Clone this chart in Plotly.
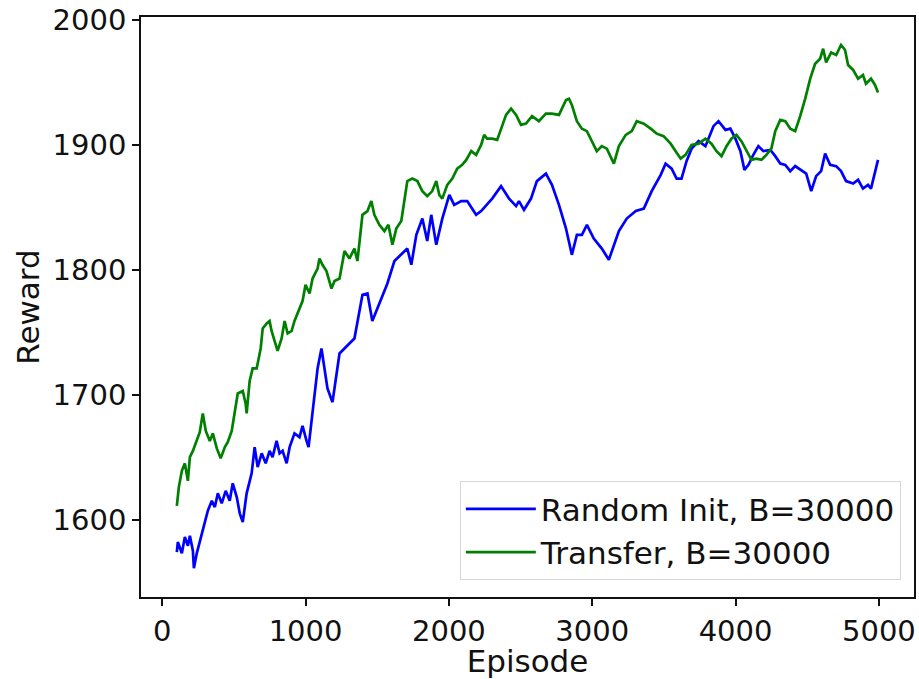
import plotly.graph_objects as go

# Random Init, B=30000
random_ep = [102, 109, 137, 158, 179, 193, 214, 221, 241, 276, 297, 318, 346, 367, 388, 415,
             443, 471, 492, 520, 541, 562, 589, 624, 645, 666, 694, 722, 749, 770, 798, 819,
             840, 868, 889, 923, 958, 979, 1007, 1021, 1042, 1063, 1084, 1111, 1132, 1153,
             1188, 1216, 1237, 1306, 1341, 1397, 1432, 1466, 1515, 1571, 1620, 1668, 1710,
             1738, 1773, 1815, 1849, 1877, 1912, 1954, 2003, 2037, 2086, 2128, 2190, 2225,
             2302, 2364, 2420, 2469, 2489, 2524, 2573, 2614, 2677, 2719, 2768, 2817, 2858,
             2893, 2928, 2963, 3011, 3067, 3116, 3186, 3241, 3304, 3360, 3415, 3478, 3512,
             3554, 3589, 3623, 3658, 3693, 3742, 3790, 3846, 3881, 3930, 3964, 3999, 4034,
             4062, 4090, 4124, 4159, 4194, 4243, 4277, 4312, 4347, 4382, 4416, 4458, 4493,
             4528, 4562, 4597, 4625, 4660, 4702, 4736, 4771, 4820, 4855, 4889, 4924, 4945,
             4973, 4994]
random_reward = [1574, 1582, 1573, 1586, 1579, 1587, 1575, 1561, 1573, 1589, 1599, 1607, 1615,
                 1610, 1621, 1613, 1623, 1615, 1629, 1618, 1605, 1598, 1621, 1637, 1658, 1642,
                 1653, 1645, 1655, 1650, 1663, 1653, 1655, 1645, 1658, 1669, 1666, 1675, 1663,
                 1658, 1679, 1701, 1721, 1737, 1719, 1705, 1694, 1717, 1733, 1741, 1745, 1780,
                 1781, 1759, 1773, 1789, 1807, 1812, 1817, 1804, 1828, 1841, 1823, 1844, 1820,
                 1841, 1860, 1852, 1855, 1855, 1844, 1847, 1857, 1867, 1857, 1851, 1855, 1848,
                 1857, 1871, 1877, 1868, 1852, 1833, 1812, 1828, 1828, 1836, 1825, 1817, 1808,
                 1831, 1841, 1847, 1849, 1863, 1876, 1885, 1881, 1873, 1873, 1887, 1897, 1903,
                 1899, 1915, 1919, 1912, 1913, 1905, 1895, 1880, 1884, 1892, 1899, 1895, 1896,
                 1891, 1885, 1884, 1879, 1883, 1880, 1877, 1863, 1875, 1879, 1893, 1884, 1883,
                 1879, 1871, 1869, 1872, 1865, 1868, 1865, 1879, 1888]

# Transfer, B=30000
transfer_ep = [102, 116, 137, 158, 179, 193, 214, 241, 262, 283, 304, 332, 353, 381, 408, 437,
               457, 485, 506, 527, 562, 582, 589, 610, 631, 659, 687, 701, 729, 749, 763, 784,
               805, 833, 854, 875, 903, 923, 944, 979, 1000, 1028, 1049, 1084, 1097, 1118,
               1146, 1181, 1202, 1237, 1272, 1306, 1341, 1362, 1397, 1432, 1459, 1480, 1515,
               1550, 1578, 1606, 1633, 1668, 1710, 1745, 1780, 1815, 1849, 1884, 1912, 1933,
               1954, 1989, 2024, 2058, 2093, 2121, 2156, 2190, 2225, 2246, 2267, 2302, 2337,
               2364, 2399, 2434, 2469, 2503, 2538, 2580, 2628, 2677, 2719, 2768, 2817, 2838,
               2858, 2893, 2928, 2963, 2998, 3032, 3067, 3102, 3151, 3186, 3234, 3276, 3311,
               3360, 3408, 3450, 3498, 3547, 3582, 3617, 3651, 3693, 3742, 3790, 3832, 3867,
               3902, 3937, 3971, 4006, 4041, 4076, 4111, 4145, 4180, 4215, 4250, 4277, 4312,
               4347, 4382, 4416, 4451, 4486, 4521, 4555, 4590, 4611, 4632, 4667, 4702, 4736,
               4764, 4785, 4820, 4855, 4889, 4910, 4945, 4973, 4994]
transfer_reward = [1611, 1626, 1639, 1645, 1631, 1650, 1655, 1663, 1670, 1685, 1671, 1663, 1669,
                   1657, 1649, 1658, 1662, 1671, 1687, 1701, 1703, 1693, 1685, 1711, 1721, 1721,
                   1737, 1753, 1757, 1759, 1751, 1743, 1735, 1745, 1759, 1749, 1751, 1759, 1765,
                   1775, 1788, 1781, 1793, 1801, 1809, 1804, 1799, 1785, 1791, 1793, 1815, 1809,
                   1817, 1807, 1844, 1847, 1855, 1844, 1836, 1831, 1836, 1820, 1833, 1839, 1871,
                   1873, 1871, 1863, 1859, 1863, 1871, 1860, 1857, 1868, 1873, 1881, 1884, 1888,
                   1895, 1892, 1900, 1908, 1905, 1905, 1904, 1913, 1924, 1929, 1924, 1916, 1917,
                   1923, 1919, 1925, 1925, 1924, 1936, 1937, 1932, 1919, 1913, 1911, 1903, 1895,
                   1899, 1897, 1885, 1899, 1908, 1911, 1919, 1917, 1913, 1909, 1907, 1901, 1895,
                   1889, 1892, 1900, 1901, 1905, 1901, 1895, 1891, 1899, 1905, 1908, 1903, 1895,
                   1888, 1889, 1888, 1892, 1897, 1911, 1920, 1919, 1913, 1911, 1923, 1937, 1953,
                   1965, 1969, 1977, 1966, 1974, 1972, 1980, 1976, 1964, 1960, 1953, 1956, 1949,
                   1953, 1948, 1942]

x_ticks = [0, 1000, 2000, 3000, 4000, 5000]
y_ticks = [1600, 1700, 1800, 1900, 2000]

INK = "#111111"
TICK_FONT = dict(family="DejaVu Sans", size=29, color=INK)
TITLE_FONT = dict(family="DejaVu Sans", size=31, color=INK)
LEGEND_FONT = dict(family="DejaVu Sans", size=31, color=INK)

fig = go.Figure()
fig.add_trace(go.Scatter(x=random_ep, y=random_reward, mode="lines",
                         name="Random Init, B=30000", legendgroup="a",
                         line=dict(color="#0000ff", width=2.7)))
fig.add_trace(go.Scatter(x=transfer_ep, y=transfer_reward, mode="lines",
                         name="Transfer, B=30000", legendgroup="b",
                         line=dict(color="#008000", width=2.7)))

axis_common = dict(showline=True, linecolor=INK, linewidth=1.6, mirror=True,
                   ticks="outside", ticklen=7, tickwidth=1.6, tickcolor=INK,
                   showgrid=False, zeroline=False, tickfont=TICK_FONT)

fig.update_layout(
    width=919, height=679,
    margin=dict(l=141, r=3, t=15, b=82),
    paper_bgcolor="white", plot_bgcolor="white",
    font=TICK_FONT,
    xaxis=dict(range=[-148, 5245], tickvals=x_ticks,
               title=dict(text="Episode", font=TITLE_FONT, standoff=2), **axis_common),
    yaxis=dict(range=[1538, 2002.4], tickvals=y_ticks,
               title=dict(text="Reward", font=TITLE_FONT, standoff=4), **axis_common),
    legend=dict(x=0.983, y=0.029, xanchor="right", yanchor="bottom",
                bgcolor="rgba(255,255,255,0.8)", bordercolor="#d6d6d6", borderwidth=1,
                font=LEGEND_FONT, tracegroupgap=4, traceorder="normal",
                itemwidth=70),
    showlegend=True,
)

fig.write_html("out.html")
